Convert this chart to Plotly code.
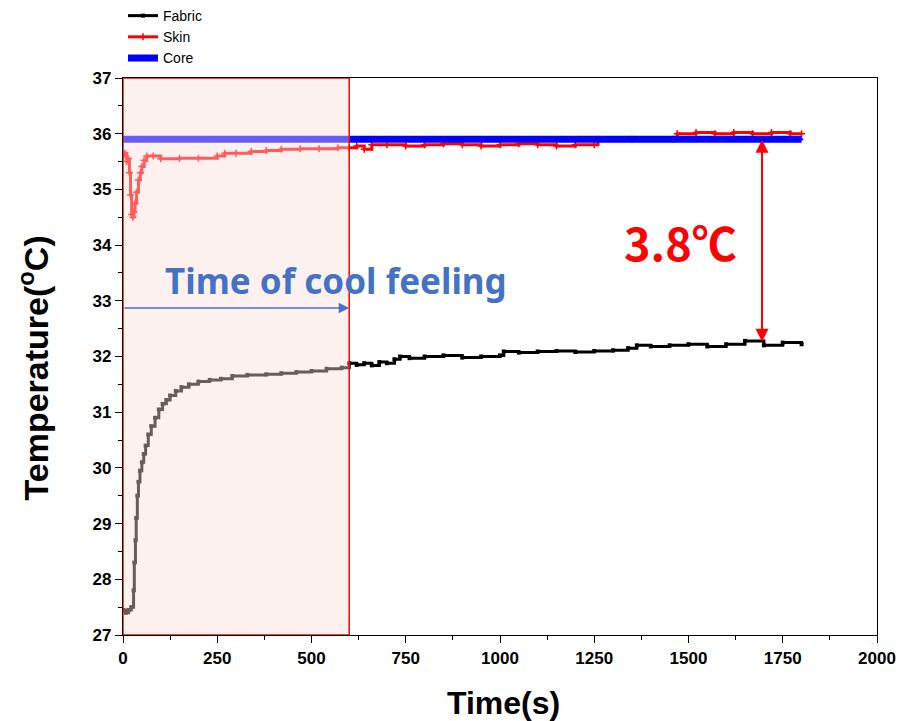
import plotly.graph_objects as go

# ---- data ----
fabric_t = [0, 8, 15, 22, 28, 30, 33, 35, 38, 41, 45, 50, 55, 60, 67, 75, 85, 95, 105, 115, 125, 140, 155,
            175, 200, 230, 260, 290, 330, 380, 420, 460, 500, 540, 580, 600, 620, 640, 660, 680, 700, 720,
            735, 760, 800, 850, 900, 950, 1000, 1010, 1050, 1100, 1150, 1200, 1250, 1300, 1340, 1363, 1400,
            1450, 1500, 1550, 1600, 1650, 1700, 1750, 1800]
fabric_v = [27.45, 27.4, 27.45, 27.5, 27.8, 28.3, 28.7, 29.1, 29.5, 29.75, 29.95, 30.1, 30.25, 30.4, 30.6,
            30.75, 30.9, 31.05, 31.15, 31.22, 31.3, 31.38, 31.45, 31.5, 31.55, 31.58, 31.6, 31.65, 31.67,
            31.68, 31.7, 31.72, 31.74, 31.78, 31.8, 31.88, 31.85, 31.88, 31.84, 31.9, 31.88, 31.95,
            32.0, 31.97, 32.0, 32.02, 31.98, 32.0, 32.02, 32.09, 32.07, 32.09, 32.1, 32.08, 32.1, 32.11,
            32.15, 32.2, 32.18, 32.2, 32.22, 32.18, 32.22, 32.28, 32.2, 32.25, 32.22]

skin_t = [0, 5, 10, 14, 17, 20, 23, 26, 29, 32, 36, 41, 46, 50, 56, 63, 80, 100, 150, 200, 250, 270, 300,
          340, 380, 420, 470, 520, 570, 600, 620, 640, 660, 700, 750, 800, 850, 900, 950, 1000, 1050, 1100,
          1150, 1200, 1250, 1260, 1350, 1460, 1470, 1520, 1570, 1620, 1670, 1720, 1770, 1800]
skin_v = [35.6, 35.65, 35.5, 35.55, 35.3, 34.9, 34.55, 34.5, 34.6, 34.75, 34.95, 35.17, 35.3, 35.41, 35.52,
          35.6, 35.6, 35.55, 35.56, 35.56, 35.6, 35.65, 35.65, 35.68, 35.7, 35.72, 35.73, 35.73, 35.75,
          35.75, 35.78, 35.72, 35.8, 35.8, 35.78, 35.8, 35.82, 35.8, 35.78, 35.8, 35.82, 35.8, 35.78, 35.8,
          35.8, 35.9, 35.9, 35.9, 36.0, 36.02, 36.0, 36.02, 36.0, 36.02, 36.0, 36.0]

core_t = [0, 300, 600, 900, 1200, 1500, 1800]
core_v = [35.9, 35.9, 35.9, 35.9, 35.9, 35.9, 35.9]

x_ticks = [0, 250, 500, 750, 1000, 1250, 1500, 1750, 2000]
y_ticks = [27, 28, 29, 30, 31, 32, 33, 34, 35, 36, 37]

cool_end = 600
arrow_t = 1695
arrow_top = 35.89
arrow_bottom = 32.24

fig = go.Figure()
fig.add_trace(go.Scatter(x=fabric_t, y=fabric_v, name="Fabric", mode="lines+markers",
                         line=dict(color="black", width=3, shape="hv"),
                         marker=dict(symbol="square", size=4, color="black")))
fig.add_trace(go.Scatter(x=skin_t, y=skin_v, name="Skin", mode="lines+markers",
                         line=dict(color="red", width=3, shape="hv"),
                         marker=dict(symbol="cross-thin", size=5, color="red",
                                     line=dict(color="red", width=1.5))))
fig.add_trace(go.Scatter(x=core_t, y=core_v, name="Core", mode="lines+markers",
                         line=dict(color="blue", width=7),
                         marker=dict(symbol="triangle-up", size=4, color="blue")))

# shaded "cool feeling" region
fig.add_shape(type="rect", xref="x", yref="y", x0=0, x1=cool_end, y0=27, y1=37,
              fillcolor="rgb(250,222,218)", opacity=0.42, line=dict(width=0), layer="above")
fig.add_shape(type="rect", xref="x", yref="y", x0=0, x1=cool_end, y0=27, y1=37,
              fillcolor="rgba(0,0,0,0)", line=dict(color="red", width=1.5), layer="above")

fig.add_annotation(text="<b>Time of cool feeling</b>", x=565, y=33.36, xref="x", yref="y",
                   showarrow=False, font=dict(family="Noto Sans, Open Sans", size=35, color="#4472C4"))
fig.add_annotation(x=cool_end, y=32.87, ax=0, ay=32.87, xref="x", yref="y", axref="x", ayref="y",
                   text="", showarrow=True, arrowhead=2, arrowsize=1.4, arrowwidth=1.5,
                   arrowcolor="#4472C4")
fig.add_annotation(text="<b>3.8℃</b>", x=1480, y=34.06, xref="x", yref="y", showarrow=False,
                   font=dict(family="Noto Sans CJK KR, Noto Sans", size=45, color="red"))
fig.add_annotation(x=arrow_t, y=arrow_top, ax=arrow_t, ay=arrow_bottom, xref="x", yref="y",
                   axref="x", ayref="y", text="", showarrow=True, arrowhead=2, startarrowhead=2,
                   arrowside="end+start", arrowsize=1.3, startarrowsize=1.3, arrowwidth=2,
                   arrowcolor="red")

# axis titles
fig.add_annotation(text="<b>Temperature(<sup>o</sup>C)</b>", xref="paper", yref="paper",
                   x=-0.119, y=0.479, xanchor="center", yanchor="middle", textangle=-90,
                   showarrow=False, font=dict(family="Liberation Sans, Arial", size=34, color="black"))
fig.add_annotation(text="<b>Time(s)</b>", xref="paper", yref="paper", x=0.504, y=-0.122,
                   xanchor="center", yanchor="middle", showarrow=False,
                   font=dict(family="Liberation Sans, Arial", size=32, color="black"))

fig.update_layout(
    width=901, height=721,
    margin=dict(l=123, r=24, t=78, b=86, autoexpand=False),
    paper_bgcolor="white", plot_bgcolor="white",
    font=dict(family="Liberation Sans, Arial", color="black"),
    legend=dict(x=0.0, y=1.14, xanchor="left", yanchor="top", bgcolor="rgba(0,0,0,0)",
                font=dict(family="Liberation Sans, Arial", size=14), tracegroupgap=0,
                itemwidth=30),
    xaxis=dict(range=[0, 2000], tickvals=x_ticks, ticktext=[str(v) for v in x_ticks],
               ticks="outside", ticklen=7, tickwidth=1.3, tickcolor="black", automargin=False,
               showline=True, linecolor="black", linewidth=1.3, mirror=True, showgrid=False,
               zeroline=False,
               tickfont=dict(family="Liberation Sans Narrow, Liberation Sans", size=17, weight="bold"),
               minor=dict(dtick=125, tick0=0, ticks="outside", ticklen=4, tickcolor="black", tickwidth=1.3)),
    yaxis=dict(range=[27, 37], tickvals=y_ticks, ticktext=[str(v) for v in y_ticks],
               ticks="outside", ticklen=7, tickwidth=1.3, tickcolor="black", automargin=False,
               showline=True, linecolor="black", linewidth=1.3, mirror=True, showgrid=False,
               zeroline=False,
               tickfont=dict(family="Liberation Sans, Arial", size=17, weight="bold"),
               minor=dict(dtick=0.5, tick0=27, ticks="outside", ticklen=4, tickcolor="black", tickwidth=1.3)),
)

fig.write_html("out.html", config={"displayModeBar": False},
               post_script="document.body.style.margin='0';document.body.style.overflow='hidden';")
